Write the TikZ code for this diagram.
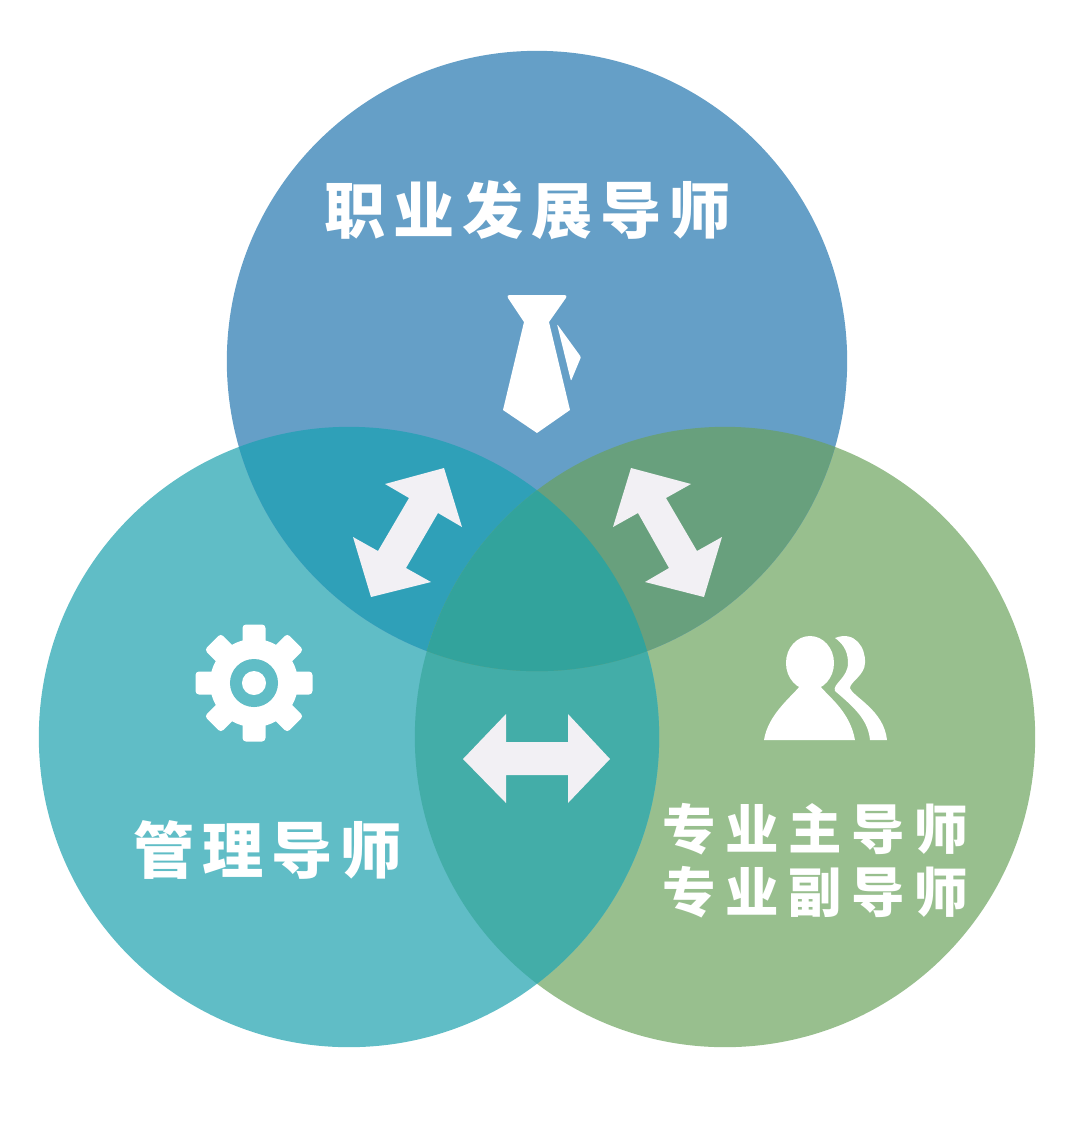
\documentclass[tikz,border=0pt]{standalone}
\usepackage{fontspec}
\usepackage{xcolor}
\newfontfamily\cjkbig[LetterSpace=12.8]{Noto Sans CJK SC}
\newfontfamily\cjksmall[LetterSpace=18]{Noto Sans CJK SC}
\definecolor{topblue}{HTML}{659FC7}
\definecolor{leftteal}{HTML}{60BDC6}
\definecolor{rightgreen}{HTML}{98BF8E}
\definecolor{topleftmix}{HTML}{2FA0B8}
\definecolor{toprightmix}{HTML}{68A07D}
\definecolor{leftrightmix}{HTML}{43ADA8}
\definecolor{centermix}{HTML}{32A39C}
\definecolor{arrowwhite}{HTML}{F2F0F4}
\tikzset{
    biglabel/.style={text=white, inner sep=0pt, font=\cjkbig\bfseries\fontsize{17.4}{20}\selectfont},
    smalllabel/.style={text=white, inner sep=0pt, font=\cjksmall\bfseries\fontsize{15.2}{18}\selectfont},
}
\begin{document}
\begin{tikzpicture}[x=0.01cm, y=-0.01cm]
            \useasboundingbox (0, 0) rectangle (1080, 1126);

            % Circles
            \fill[rightgreen] (725, 737) circle [radius=3.1cm];
            \fill[leftteal] (349, 737) circle [radius=3.1cm];
            \fill[topblue] (537, 361) circle [radius=3.1cm];

            % Overlaps
            \begin{scope}
                \clip (349, 737) circle [radius=3.1cm];
                \fill[topleftmix] (537, 361) circle [radius=3.1cm];
                \fill[leftrightmix] (725, 737) circle [radius=3.1cm];
            \end{scope}
            \begin{scope}
                \clip (725, 737) circle [radius=3.1cm];
                \fill[toprightmix] (537, 361) circle [radius=3.1cm];
            \end{scope}
            \begin{scope}
                \clip (349, 737) circle [radius=3.1cm];
                \clip (725, 737) circle [radius=3.1cm];
                \fill[centermix] (537, 361) circle [radius=3.1cm];
            \end{scope}

            % Arrows
            \fill[arrowwhite] (385, 484) -- (444, 468) -- (462, 527) -- (438, 513) -- (406, 568) -- (431, 582) -- (371, 597) -- (353, 537) -- (378, 551) -- (409, 498) -- cycle;
            \fill[arrowwhite] (631, 468) -- (691, 484) -- (666, 498) -- (697, 551) -- (722, 537) -- (704, 597) -- (645, 582) -- (669, 568) -- (638, 513) -- (613, 527) -- cycle;
            \fill[arrowwhite] (463, 759) -- (506, 714) -- (506, 742) -- (568, 742) -- (568, 714) -- (610, 759) -- (568, 803) -- (568, 775) -- (506, 775) -- (506, 803) -- cycle;

            % Tie
            \fill[white] (537, 295) [rounded corners=1pt] -- (568, 295) [sharp corners] -- (549, 322) -- (570, 410) -- (537, 433) -- (503, 410) -- (524, 322) [rounded corners=1pt] -- (506, 295) -- cycle;
            \fill[white, rounded corners=0.3pt] (557, 324) -- (581, 357) -- (571, 381) -- cycle;

            % Gear
            \foreach \ang in {0, 45, ..., 315} {
                \fill[white, rounded corners=1pt, rotate around={\ang:(254, 683)}] (242.5, 683) rectangle (265.5, 624.5);
            }
            \fill[white] (254, 683) circle [radius=0.44cm];
            \fill[leftteal] (254, 683) circle [radius=0.24cm];
            \fill[white] (254, 683) circle [radius=0.12cm];

            % People
            \fill[white] (810, 663) ellipse [x radius=0.24cm, y radius=0.27cm];
            \fill[white] (800, 686) .. controls (790, 698) and (768, 715) .. (764, 740) -- (855, 740) .. controls (850, 712) and (830, 698) .. (820, 686) -- cycle;
            \fill[white] (835, 638) .. controls (855, 630) and (866, 648) .. (865, 663) .. controls (865, 675) and (850, 682) .. (850, 688) .. controls (853, 697) and (884, 710) .. (887, 740) -- (870, 740) .. controls (868, 720) and (855, 708) .. (835, 691) .. controls (832, 684) and (848, 678) .. (848, 663) .. controls (848, 650) and (842, 643) .. (835, 638) -- cycle;

            % Nodes
            \node[biglabel] (career) at (528, 210) {职业发展导师};
            \node[biglabel] (manage) at (268, 850) {管理导师};
            \node[smalllabel] (major) at (815, 829) {专业主导师};
            \node[smalllabel] (minor) at (815, 892) {专业副导师};
        \end{tikzpicture}
\end{document}
